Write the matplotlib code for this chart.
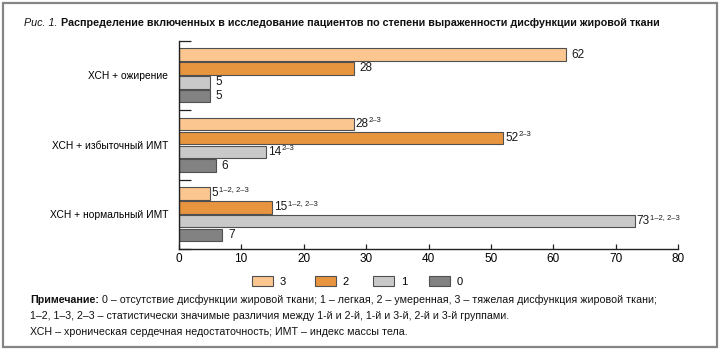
import matplotlib
matplotlib.use('Agg')
import matplotlib.pyplot as plt
from matplotlib.patches import Rectangle, Patch
from matplotlib import font_manager

categories = ['ХСН + ожирение', 'ХСН + избыточный ИМТ', 'ХСН + нормальный ИМТ']
series_names = ['3', '2', '1', '0']
values_3 = [62, 28, 5]
values_2 = [28, 52, 15]
values_1 = [5, 14, 73]
values_0 = [5, 6, 7]
sup_3 = ['', '2–3', '1–2, 2–3']
sup_2 = ['', '2–3', '1–2, 2–3']
sup_1 = ['', '2–3', '1–2, 2–3']
sup_0 = ['', '', '']
xticks = [0, 10, 20, 30, 40, 50, 60, 70, 80]

title_prefix = 'Рис. 1.'
title_text = 'Распределение включенных в исследование пациентов по степени выраженности дисфункции жировой ткани'
note_head = 'Примечание:'
note_lines = [
    '0 – отсутствие дисфункции жировой ткани; 1 – легкая, 2 – умеренная, 3 – тяжелая дисфункция жировой ткани;',
    '1–2, 1–3, 2–3 – статистически значимые различия между 1-й и 2-й, 1-й и 3-й, 2-й и 3-й группами.',
    'ХСН – хроническая сердечная недостаточность; ИМТ – индекс массы тела.',
]

colors = ['#FBC690', '#E8953F', '#C9C9C9', '#828282']
edge = '#505050'

names = {f.name for f in font_manager.fontManager.ttflist}
NARROW = 'Liberation Sans Narrow' if 'Liberation Sans Narrow' in names else 'Liberation Sans'
REG = 'Liberation Sans' if 'Liberation Sans' in names else 'DejaVu Sans'
plt.rcParams['font.family'] = [REG, 'DejaVu Sans']
FAM = [NARROW, REG, 'DejaVu Sans']

W, H, DPI = 720, 352, 100
fig = plt.figure(figsize=(W / DPI, H / DPI), dpi=DPI)
x0, x1, ytop, ybot = 178.7, 678.3, 40.7, 249.0
ax = fig.add_axes([x0 / W, 1 - ybot / H, (x1 - x0) / W, (ybot - ytop) / H])

all_vals = [values_3, values_2, values_1, values_0]
all_sups = [sup_3, sup_2, sup_1, sup_0]
n = len(categories)
centers = [n - 1 - i for i in range(n)]
bar_h = 0.18
pitch = 0.2

texts = []
for j, (vals, sups) in enumerate(zip(all_vals, all_sups)):
    ys = [c + 1.5 * pitch - j * pitch for c in centers]
    ax.barh(ys, vals, height=bar_h, color=colors[j], edgecolor=edge, linewidth=0.8)
    for v, y, s in zip(vals, ys, sups):
        gap = 1.2 if s else 4.0
        t = ax.annotate(str(v), xy=(v, y), xytext=(gap, 0), textcoords='offset points',
                        va='center', ha='left', fontsize=8.5, color='#1a1a1a')
        texts.append((t, v, y, s, gap))

ax.set_xlim(0, 80)
ax.set_ylim(-0.5, n - 0.5)
ax.set_xticks(xticks)
ax.set_xticklabels([str(x) for x in xticks], fontsize=8.5)
ax.set_yticks(centers)
ax.set_yticklabels(categories, fontsize=7.4)
ax.set_yticks([b - 0.5 for b in range(n + 1)], minor=True)
ax.tick_params(axis='y', which='major', length=0, pad=7.6)
ax.tick_params(axis='y', which='minor', direction='in', length=8.5, width=0.9, color='#222222')
ax.tick_params(axis='x', direction='in', length=3.5, width=0.9, pad=3, color='#222222')
for s in ['top', 'right']:
    ax.spines[s].set_visible(False)
for s in ['left', 'bottom']:
    ax.spines[s].set_linewidth(1.0)
    ax.spines[s].set_color('#222222')

# legend: one entry per legend, anchored at the left edge of each swatch
legend_x = [252, 315, 373, 429]
for j in range(4):
    h = Patch(facecolor=colors[j], edgecolor=edge, linewidth=0.8)
    fig.legend([h], [series_names[j]], frameon=False, fontsize=8,
               loc='center left', bbox_to_anchor=(legend_x[j] / W, 1 - 281.5 / H),
               borderpad=0, borderaxespad=0, handlelength=1.9, handleheight=1.0,
               handletextpad=0.6)

fig.canvas.draw()
renderer = fig.canvas.get_renderer()
for t, v, y, s, gap in texts:
    if s:
        bb = t.get_window_extent(renderer)
        wpt = bb.width * 72 / DPI
        ax.annotate(s, xy=(v, y), xytext=(gap + wpt + 0.3, 2.5), textcoords='offset points',
                    va='center', ha='left', fontsize=5.5, color='#1a1a1a')


def px(x, y):
    return x / W, 1 - y / H


def width_of(parts):
    fig.canvas.draw()
    return sum(p.get_window_extent(renderer).width for p in parts)


# title: fit 24 .. 659 px
base = 8.0
t1 = fig.text(*px(24, 23), title_prefix, fontsize=base, style='italic', family=FAM,
              va='center', ha='left', color='#111111')
t2 = fig.text(*px(0, 23), title_text, fontsize=base, weight='bold', family=FAM,
              va='center', ha='left', color='#111111')
wt = width_of([t1, t2]) + 3
fs = base * (659 - 24 - 3) / (wt - 3)
t1.set_fontsize(fs)
t2.set_fontsize(fs)
fig.canvas.draw()
t2.set_position(px(24 + t1.get_window_extent(renderer).width + 3, 23))

# notes: fit line 1 to 30 .. 650 px
n1 = fig.text(*px(30, 300), note_head, fontsize=base, weight='bold', family=FAM,
              va='center', ha='left', color='#111111')
n2 = fig.text(*px(0, 300), note_lines[0], fontsize=base, family=FAM,
              va='center', ha='left', color='#111111')
wn = width_of([n1, n2])
fsn = base * (650 - 30 - 3) / wn
n1.set_fontsize(fsn)
n2.set_fontsize(fsn)
fig.canvas.draw()
n2.set_position(px(30 + n1.get_window_extent(renderer).width + 3, 300))
for k, yy in zip([1, 2], [316, 332]):
    fig.text(*px(30, yy), note_lines[k], fontsize=fsn, family=FAM,
             va='center', ha='left', color='#111111')

# frame
fig.patches.append(Rectangle((3 / W, 5 / H), (W - 6) / W, (H - 8) / H, transform=fig.transFigure,
                             fill=False, edgecolor='#858585', linewidth=1.6))

fig.savefig('out.png', dpi=DPI)
